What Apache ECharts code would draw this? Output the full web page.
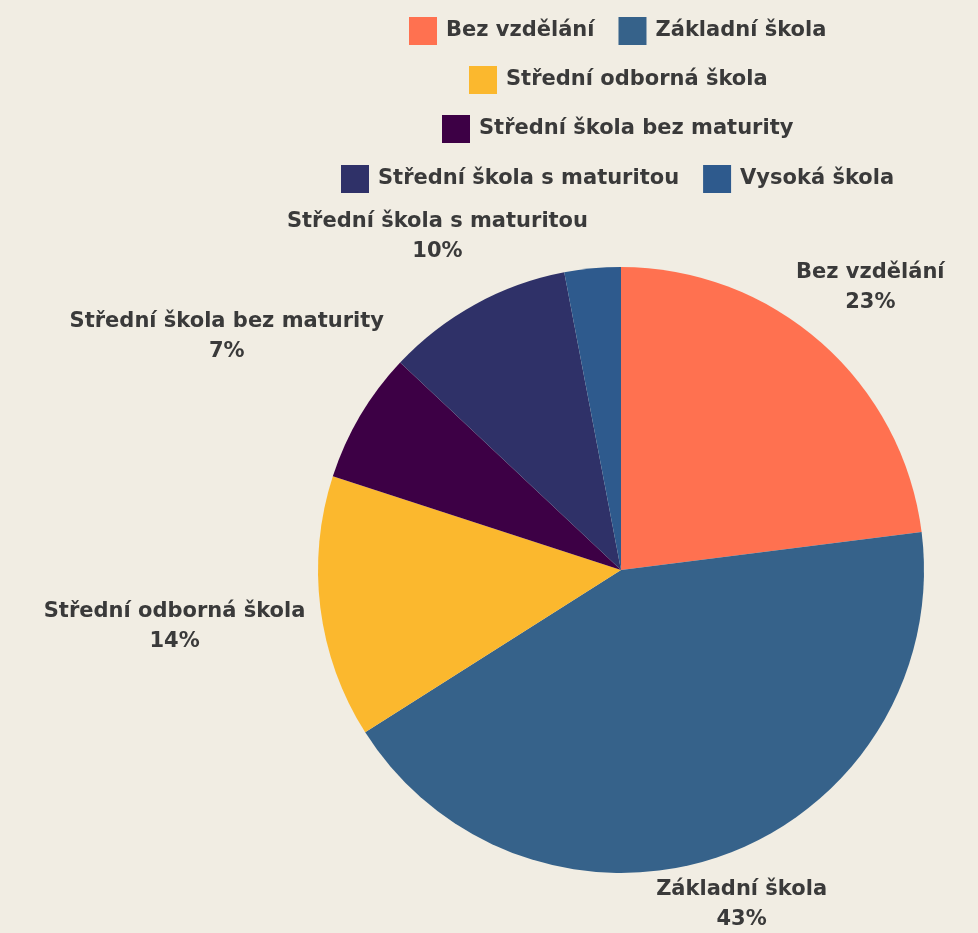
<!DOCTYPE html>
<html lang="cs">

<head>
	<meta charset="UTF-8">
	<script src="https://cdn.jsdelivr.net/npm/echarts@6/dist/echarts.min.js"></script>
	<title>Vzdělání</title>
	<style>
		html, body { margin: 0; padding: 0; background: #f1ede3; }
	</style>
</head>

<body>
	<div id="main" style="width: 978px;height:933px;"></div>

	<script>
		// data
		var categories = ['Bez vzdělání', 'Základní škola', 'Střední odborná škola', 'Střední škola bez maturity', 'Střední škola s maturitou', 'Vysoká škola'];
		var values = [23, 43, 14, 7, 10, 3];
		var colors = ['#ff7150', '#36628a', '#fbb82e', '#3d0045', '#2f3168', '#2e5a8d'];
		var legendRows = [
			['Bez vzdělání', 'Základní škola'],
			['Střední odborná škola'],
			['Střední škola bez maturity'],
			['Střední škola s maturitou', 'Vysoká škola']
		];

		var FONT = 'DejaVu Sans';
		var FS = 21;
		var FW = 'bold';
		var cx = 621, cy = 570, R = 303;
		// distance of each label centre from the pie centre
		var labelDist = [377, 356, 450, 458, 381, 0];

		var total = values.reduce(function (a, b) { return a + b; }, 0);
		var cum = [];
		values.reduce(function (acc, v, i) { cum[i] = acc; return acc + v; }, 0);

		// measure text for centring legend rows
		var ctx = document.createElement('canvas').getContext('2d');
		ctx.font = FW + ' ' + FS + 'px ' + FONT;
		var iconW = 28, iconGap = 9, itemGap = 24;
		var rowTops = [17, 66, 115, 165];

		var legends = legendRows.map(function (row, r) {
			var w = 0;
			row.forEach(function (name, k) {
				w += iconW + iconGap + ctx.measureText(name).width;
				if (k > 0) w += itemGap;
			});
			return {
				data: row,
				top: rowTops[r],
				left: Math.round(618 - w / 2),
				padding: 0,
				itemWidth: iconW,
				itemHeight: 28,
				itemGap: itemGap,
				icon: 'rect',
				textStyle: { fontFamily: FONT, fontSize: FS, fontWeight: FW, color: '#3a3a3a', padding: [0, 0, 0, iconGap - 5] },
				selectedMode: false
			};
		});

		var chart = echarts.init(document.getElementById('main'));

		chart.setOption({
			backgroundColor: '#f1ede3',
			color: colors,
			legend: legends,
			series: [{
				type: 'pie',
				center: [cx, cy],
				radius: R,
				startAngle: 90,
				clockwise: true,
				avoidLabelOverlap: false,
				animation: false,
				data: categories.map(function (name, i) {
					return {
						name: name,
						value: values[i],
						label: { show: i !== 5 }
					};
				}),
				label: {
					position: 'outside',
					formatter: '{b}\n{d}%',
					fontFamily: FONT,
					fontSize: FS,
					fontWeight: FW,
					color: '#3a3a3a',
					lineHeight: 30,
					align: 'center'
				},
				labelLine: { show: false },
				labelLayout: function (params) {
					var i = params.dataIndex;
					var a = (cum[i] + values[i] / 2) / total * Math.PI * 2;
					var t = labelDist[i];
					return {
						x: cx + t * Math.sin(a),
						y: cy - t * Math.cos(a),
						align: 'center',
						verticalAlign: 'middle'
					};
				}
			}]
		});
	</script>
</body>

</html>
